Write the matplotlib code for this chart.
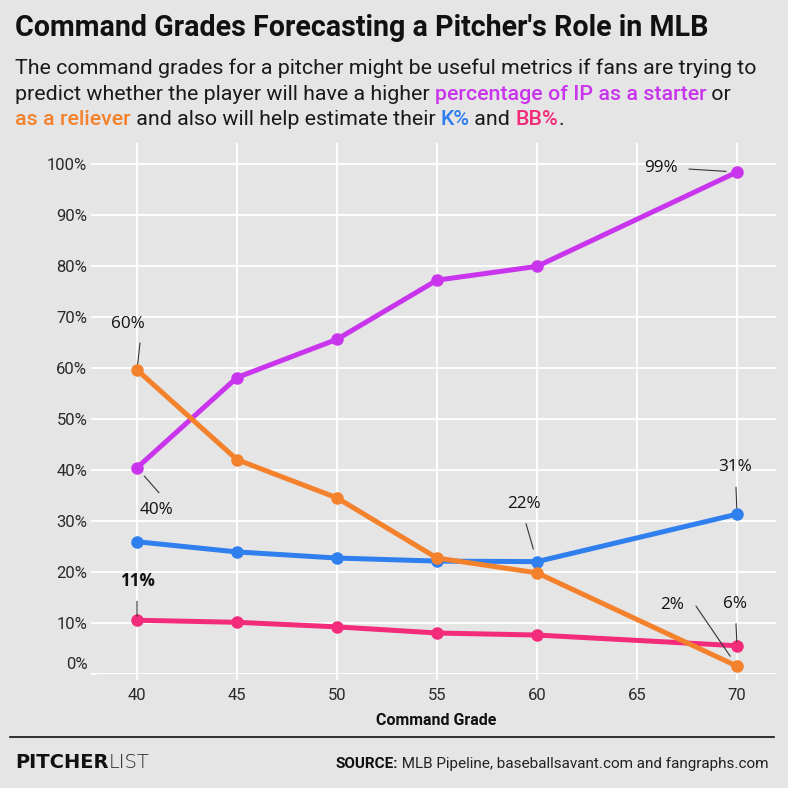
import matplotlib
matplotlib.use('Agg')
import matplotlib.pyplot as plt
import matplotlib.transforms as mtransforms
from matplotlib import font_manager

# data
grades = [40, 45, 50, 55, 60, 70]
starter_pct = [40.5, 58.2, 65.7, 77.3, 80.0, 98.5]
reliever_pct = [59.7, 42.1, 34.6, 22.8, 19.9, 1.6]
k_pct = [26.0, 24.0, 22.8, 22.2, 22.1, 31.4]
bb_pct = [10.6, 10.2, 9.3, 8.1, 7.7, 5.6]

x_ticks = [40, 45, 50, 55, 60, 65, 70]
y_ticks = [0, 10, 20, 30, 40, 50, 60, 70, 80, 90, 100]
y_tick_labels = [f"{v}%" for v in y_ticks]

colors = {
    'starter': '#C935EC',
    'reliever': '#F4812B',
    'k': '#2F7FEE',
    'bb': '#F22B7B',
}
series = {
    'starter': starter_pct,
    'reliever': reliever_pct,
    'k': k_pct,
    'bb': bb_pct,
}

# value labels: series, point index, text, text offset (px), line start offset (px), gap to point (px), weight
labels = [
    ('starter', 5, '99%', (-76, 4), (-48, 3), 11, 'medium'),
    ('reliever', 0, '60%', (-9, 46), (3, 27), 6, 'medium'),
    ('starter', 0, '40%', (20, -42), (22, -25), 11, 'medium'),
    ('bb', 0, '11%', (0, 39), (0, 19), 4, 'bold'),
    ('k', 4, '22%', (-13, 58), (-11, 38), 13, 'medium'),
    ('k', 5, '31%', (-2, 47), (-1, 27), 6, 'medium'),
    ('reliever', 5, '2%', (-65, 61), (-41, 60), 12, 'medium'),
    ('bb', 5, '6%', (-2, 42), (-1, 22), 4, 'medium'),
]

names = {f.name for f in font_manager.fontManager.ttflist}
cond = 'Liberation Sans Narrow' if 'Liberation Sans Narrow' in names else 'Roboto'
label_font = 'Open Sans' if 'Open Sans' in names else 'DejaVu Sans'

bg = '#E5E5E5'
W = 788
fig = plt.figure(figsize=(W / 100, W / 100), dpi=100, facecolor=bg)
# pixel coords with origin at top-left
px = mtransforms.Affine2D().scale(1 / W, -1 / W).translate(0, 1) + fig.transFigure

ax = fig.add_axes([97 / W, 1 - 674.3 / W, 679 / W, 531.3 / W])
ax.set_facecolor(bg)
for s in ax.spines.values():
    s.set_visible(False)

ax.set_xlim(38, 71.95)
ax.set_ylim(0, 104.2)
ax.set_xticks(x_ticks)
ax.set_yticks(y_ticks)
ax.set_yticklabels(y_tick_labels)
ax.grid(True, color='white', linewidth=1.3)
ax.set_axisbelow(True)
ax.tick_params(axis='both', colors='white', length=4, width=1.3,
               labelcolor='#2A2A2A', labelsize=12)
for t in ax.get_xticklabels() + ax.get_yticklabels():
    t.set_family(cond)
ax.tick_params(axis='x', pad=6)
ax.tick_params(axis='y', pad=3)

# 0% label sits a bit above its tick
zero = ax.yaxis.get_major_ticks()[0].label1
zero.set_transform(zero.get_transform() + mtransforms.ScaledTranslation(0, 11 / 100, fig.dpi_scale_trans))

for key in ['starter', 'k', 'bb', 'reliever']:
    ax.plot(grades, series[key], color=colors[key], linewidth=3.6,
            marker='o', markersize=8, solid_capstyle='round', zorder=3)

for key, i, txt, toff, loff, gap, wt in labels:
    x, y = grades[i], series[key][i]
    ax.annotate(txt, xy=(x, y), xytext=toff, textcoords='offset pixels',
                ha='center', va='center', fontsize=12.3, fontweight=wt,
                family=label_font, color='#111111', zorder=5)
    ax.annotate('', xy=(x, y), xytext=loff, textcoords='offset pixels',
                arrowprops=dict(arrowstyle='-', color='#333333', lw=0.8,
                                shrinkA=0, shrinkB=gap * 72 / 100),
                zorder=5)

ax.set_xlabel('Command Grade', family=cond, fontweight='bold', fontsize=11.5,
              color='#111111', labelpad=7)

# title and subtitle
fig.text(15, 36, "Command Grades Forecasting a Pitcher's Role in MLB", transform=px,
         family=cond, fontweight='bold', fontsize=20.6, color='#111111', va='baseline')

renderer = fig.canvas.get_renderer()


def draw_runs(x, y, runs, size, family, ha='left'):
    texts = []
    for s, color, weight in runs:
        t = fig.text(x, y, s, transform=px, color=color, fontsize=size,
                     fontweight=weight, family=family, va='baseline', ha='left')
        texts.append(t)
        x += t.get_window_extent(renderer).width
    if ha == 'right':
        total = sum(t.get_window_extent(renderer).width for t in texts)
        for t in texts:
            px0, py0 = t.get_position()
            t.set_position((px0 - total, py0))
    return texts


dark = '#1A1A1A'
sub_lines = [
    [("The command grades for a pitcher might be useful metrics if fans are trying to", dark, 'normal')],
    [("predict whether the player will have a higher ", dark, 'normal'),
     ("percentage of IP as a starter", colors['starter'], 'medium'),
     (" or", dark, 'normal')],
    [("as a reliever", colors['reliever'], 'medium'),
     (" and also will help estimate their ", dark, 'normal'),
     ("K%", colors['k'], 'medium'),
     (" and ", dark, 'normal'),
     ("BB%", colors['bb'], 'medium'),
     (".", dark, 'normal')],
]
for n, runs in enumerate(sub_lines):
    draw_runs(15, 74 + n * 25.5, runs, 15.4, cond)

# footer
fig.add_artist(plt.Line2D([10 / W, 774 / W], [1 - 737.3 / W] * 2, color='#111111', lw=1.2))
draw_runs(15, 768, [("PITCHER", '#111111', 'bold'), ("LIST", '#222222', 'light')], 14, 'DejaVu Sans')
draw_runs(769, 768, [("SOURCE:", '#111111', 'bold'),
                     (" MLB Pipeline, baseballsavant.com and fangraphs.com", '#222222', 'normal')],
          11, cond, ha='right')

fig.savefig('out.png', dpi=100, facecolor=bg)
